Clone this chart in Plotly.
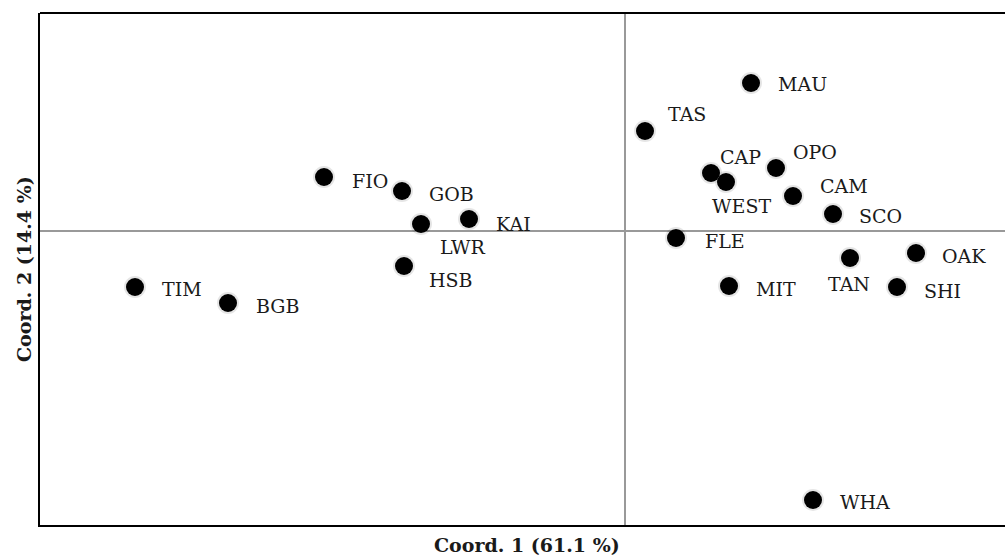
import plotly.graph_objects as go

# Data (PCoA coordinates, arbitrary units)
sites = ["MAU", "TAS", "CAP", "OPO", "WEST", "CAM", "SCO", "FLE", "OAK", "TAN",
         "MIT", "SHI", "WHA", "FIO", "GOB", "KAI", "LWR", "HSB", "TIM", "BGB"]
coord1 = [1.26, 0.20, 0.86, 1.51, 1.01, 1.68, 2.08, 0.51, 2.91, 2.25,
          1.04, 2.72, 1.88, -3.01, -2.23, -1.56, -2.04, -2.21, -4.90, -3.97]
coord2 = [1.48, 1.00, 0.58, 0.63, 0.49, 0.35, 0.17, -0.07, -0.22, -0.27,
          -0.55, -0.56, -2.69, 0.54, 0.40, 0.12, 0.07, -0.35, -0.56, -0.72]

x_title = "Coord. 1 (61.1 %)"
y_title = "Coord. 2 (14.4 %)"

# Label placement (pixel offsets: text start x, text centre y below point)
label_offsets = {
    "MAU": (25, 1), "TAS": (21, -17), "CAP": (7, -16), "OPO": (15, -16),
    "WEST": (-16, 24), "CAM": (25, -10), "SCO": (24, 2), "FLE": (27, 3),
    "OAK": (24, 3), "TAN": (-24, 26), "MIT": (25, 3), "SHI": (25, 4),
    "WHA": (25, 2), "FIO": (26, 4), "GOB": (25, 3), "KAI": (25, 5),
    "LWR": (17, 23), "HSB": (23, 14), "TIM": (25, 2), "BGB": (26, 3),
}

label_font = dict(family="DejaVu Serif", size=19, color="#1a1a1a")
title_font = dict(family="DejaVu Serif", size=19, color="#1a1a1a", weight="bold")

fig = go.Figure()
# soft shadow under markers
fig.add_trace(go.Scatter(
    x=coord1, y=coord2, mode="markers",
    marker=dict(color="rgba(0,0,0,0.10)", size=22, line=dict(width=0)),
    hoverinfo="skip", showlegend=False,
))
fig.add_trace(go.Scatter(
    x=coord1, y=coord2, mode="markers", text=sites,
    marker=dict(color="black", size=18, line=dict(width=0)),
    showlegend=False,
))

for s, xv, yv in zip(sites, coord1, coord2):
    dx, dy = label_offsets[s]
    fig.add_annotation(
        x=xv, y=yv, text=s, showarrow=False,
        xanchor="left", yanchor="middle",
        xshift=dx, yshift=-dy, font=label_font,
    )

# axis titles
fig.add_annotation(xref="paper", yref="paper", x=0.5, y=0, yshift=-20, xshift=4,
                   text=x_title, showarrow=False, font=title_font,
                   xanchor="center", yanchor="middle")
fig.add_annotation(xref="paper", yref="paper", x=0, y=0.5, xshift=-16,
                   text=y_title, showarrow=False, font=title_font,
                   textangle=-90, xanchor="center", yanchor="middle")

# top frame line
fig.add_shape(type="line", xref="paper", yref="paper", x0=0, x1=1, y0=1, y1=1,
              line=dict(color="black", width=2))

fig.update_layout(
    width=1005, height=557,
    margin=dict(l=40, r=0, t=13, b=32),
    paper_bgcolor="white", plot_bgcolor="white",
    showlegend=False,
    xaxis=dict(
        range=[-5.85, 3.80], showgrid=False, showticklabels=False, ticks="",
        zeroline=True, zerolinecolor="#999999", zerolinewidth=2,
        showline=True, linecolor="black", linewidth=2, mirror=False,
        automargin=False, fixedrange=True,
    ),
    yaxis=dict(
        range=[-2.94, 2.18], showgrid=False, showticklabels=False, ticks="",
        zeroline=True, zerolinecolor="#999999", zerolinewidth=2,
        showline=True, linecolor="black", linewidth=2, mirror=False,
        automargin=False, fixedrange=True,
    ),
)

fig.write_html(
    "out.html",
    config={"displayModeBar": False},
    post_script="document.body.style.margin='0';document.body.style.overflow='hidden';",
)
